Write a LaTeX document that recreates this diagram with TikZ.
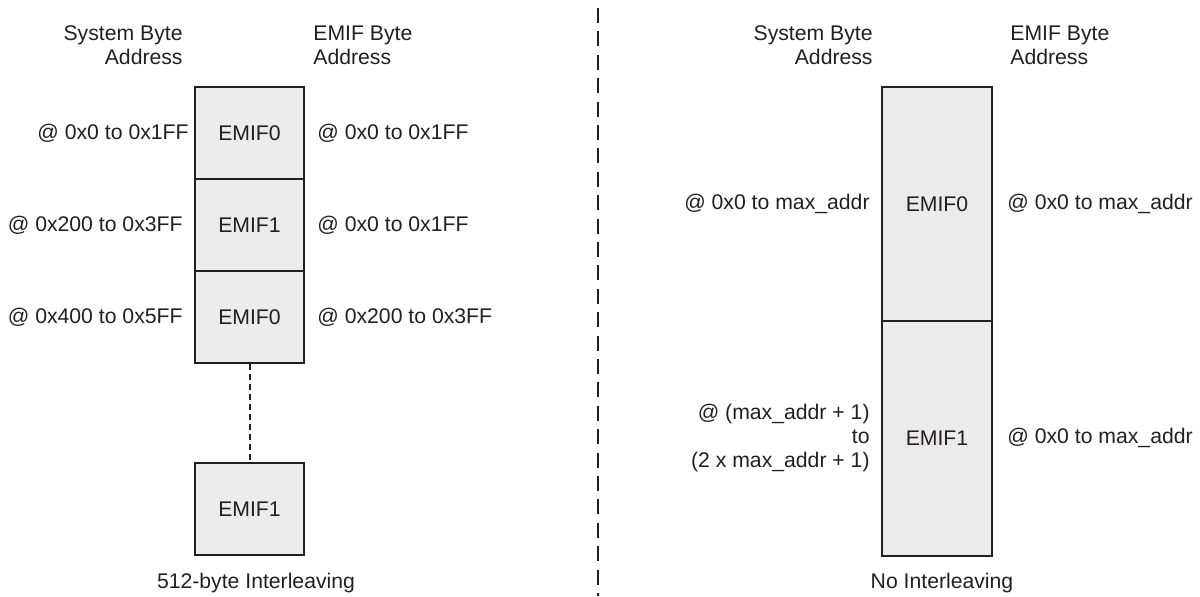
\documentclass[tikz,border=0pt]{standalone}
\usepackage{fontspec}
\setmainfont{Liberation Sans}
\definecolor{ink}{HTML}{231F20}
\definecolor{boxfill}{HTML}{EBEBEB}
\begin{document}
\begin{tikzpicture}[x=0.5pt,y=-0.5pt,
  every node/.style={font=\fontsize{10.6}{12}\selectfont, text=ink, inner sep=0pt},
  membox/.style={draw=ink, fill=boxfill, line width=1pt, minimum width=54.5pt, minimum height=46pt},
  tallbox/.style={membox, minimum width=55pt, minimum height=117pt},
  dots/.style={draw=ink, line width=1pt, dash pattern=on 3pt off 2pt},
  divider/.style={draw=ink, line width=1.3pt, dash pattern=on 7.5pt off 4.2pt}]
\useasboundingbox (0,0) rectangle (1200,596);
% divider
\coordinate (dtop) at (598,8);
\coordinate (dbot) at (598,596);
\draw[divider] (dtop) -- (dbot);
% ---------- left panel ----------
\node[align=right, anchor=east] (lsys) at (183,45) {System Byte\\Address};
\node[align=left, anchor=west] (lemif) at (313,45) {EMIF Byte\\Address};
\node[membox] (b1) at (249.5,133) {EMIF0};
\node[membox] (b2) at (249.5,225) {EMIF1};
\node[membox] (b3) at (249.5,317) {EMIF0};
\node[membox] (b4) at (249.5,509) {EMIF1};
\draw[dots] (b3.south) -- (b4.north);
\node[anchor=east] (s1) at (189,133) {@ 0x0 to 0x1FF};
\node[anchor=east] (s2) at (183,225) {@ 0x200 to 0x3FF};
\node[anchor=east] (s3) at (183,317) {@ 0x400 to 0x5FF};
\node[anchor=west] (e1) at (317,133) {@ 0x0 to 0x1FF};
\node[anchor=west] (e2) at (317,225) {@ 0x0 to 0x1FF};
\node[anchor=west] (e3) at (317,317) {@ 0x200 to 0x3FF};
\node (lcap) at (256,583) {512-byte Interleaving};
% ---------- right panel ----------
\node[align=right, anchor=east] (rsys) at (873,45) {System Byte\\Address};
\node[align=left, anchor=west] (remif) at (1010,45) {EMIF Byte\\Address};
\node[tallbox] (r0) at (937,204) {EMIF0};
\node[tallbox, minimum height=117.5pt] (r1) at (937,438.5) {EMIF1};
\node[anchor=east] (rs0) at (870,204) {@ 0x0 to max\_addr};
\node[anchor=east, align=right] (rs1) at (870,438) {@ (max\_addr + 1)\\to\\(2 x max\_addr + 1)};
\node[anchor=west] (re0) at (1007,204) {@ 0x0 to max\_addr};
\node[anchor=west] (re1) at (1007,438) {@ 0x0 to max\_addr};
\node (rcap) at (942,583) {No Interleaving};
\end{tikzpicture}
\end{document}
